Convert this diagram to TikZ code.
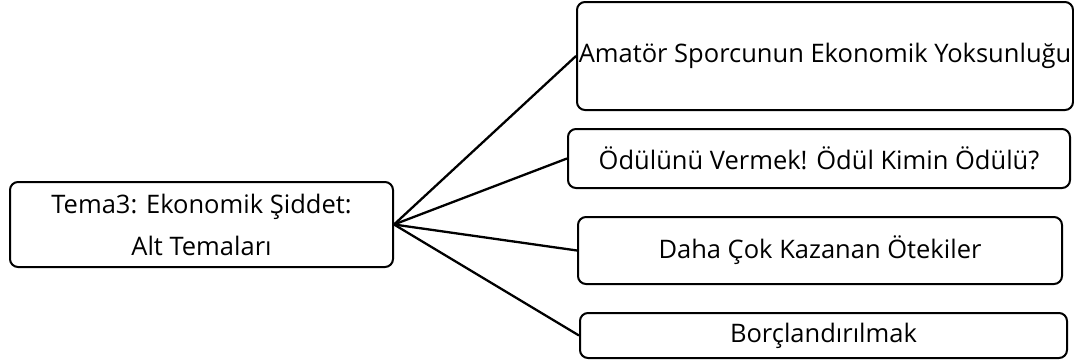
\documentclass[tikz,border=0pt]{standalone}
\usepackage{fontspec}
\setmainfont{Open Sans}
\usepackage{tikz}
\usetikzlibrary{positioning}

\begin{document}
\begin{tikzpicture}[
  x=1pt, y=-1pt,
  themebox/.style={draw=black, line width=2pt, rounded corners=8pt, align=center,
               font=\fontsize{25.5}{42}\selectfont, inner sep=0pt},
  link/.style={draw=black, line width=2.3pt},
]
\useasboundingbox (0,0) rectangle (1074,362);
\node[themebox, minimum width=383pt, minimum height=85pt] (tema) at (201.5,224.5)
  {Tema3: Ekonomik Şiddet:\\Alt Temaları};
\node[themebox, minimum width=496pt, minimum height=108pt] (amator) at (825,56)
  {Amatör Sporcunun Ekonomik Yoksunluğu};
\node[themebox, minimum width=502pt, minimum height=59pt] (odul) at (819,158.5)
  {Ödülünü Vermek! Ödül Kimin Ödülü?};
\node[themebox, minimum width=484pt, minimum height=67pt] (daha) at (820,250.5)
  {Daha Çok Kazanan Ötekiler};
\node[themebox, minimum width=487pt, minimum height=45pt] (borc) at (823.5,335.5)
  {Borçlandırılmak};
\draw[link] (tema.east) -- (amator.west);
\draw[link] (tema.east) -- (odul.west);
\draw[link] (tema.east) -- (daha.west);
\draw[link] (tema.east) -- (borc.west);
\end{tikzpicture}
\end{document}
